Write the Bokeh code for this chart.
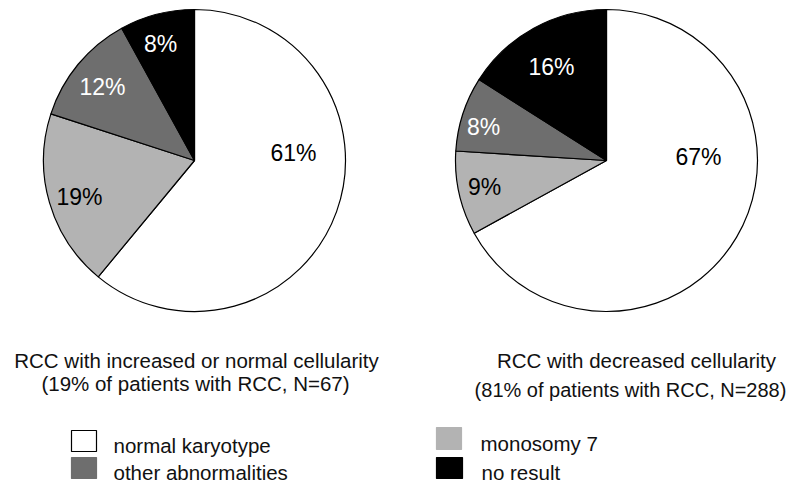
import numpy as np
from bokeh.plotting import figure
from bokeh.models import Range1d, ColumnDataSource
from bokeh.core.properties import value
from bokeh.embed import file_html
from bokeh.resources import INLINE

# ---------------- data ----------------
categories = ["normal karyotype", "monosomy 7", "other abnormalities", "no result"]
left_values = [61, 19, 12, 8]
right_values = [67, 9, 8, 16]
left_title = ["RCC with increased or normal cellularity", "(19% of patients with RCC, N=67)"]
right_title = ["RCC with decreased cellularity", "(81% of patients with RCC, N=288)"]

# ---------------- style / layout ----------------
slice_colors = ["#ffffff", "#b3b3b3", "#6e6e6e", "#000000"]
label_colors = ["#000000", "#000000", "#ffffff", "#ffffff"]
FONT = "Liberation Sans"
W, H = 787, 486
R = 151


def Y(v):
    # picture row (from the top) -> data y (y axis points up)
    return H - v


p = figure(width=W, height=H, x_range=Range1d(0, W), y_range=Range1d(0, H),
           output_backend="svg", toolbar_location=None, min_border=0)
p.axis.visible = False
p.grid.visible = False
p.outline_line_color = None
p.background_fill_color = "white"
p.border_fill_color = "white"

pies = [
    dict(values=left_values, cx=194, cy=160, title=left_title,
         title_x=[196, 195], title_y=[360, 383], title_size=["20.5px", "20.5px"],
         label_off=[(99, -8), (-115, 36), (-92, -74), (-34, -117)]),
    dict(values=right_values, cx=606, cy=160, title=right_title,
         title_x=[636, 630], title_y=[360, 389], title_size=["20.5px", "20px"],
         label_off=[(92, -4), (-122, 26), (-123, -34), (-55, -94)]),
]

for pie in pies:
    vals = np.array(pie["values"], dtype=float)
    frac = vals / vals.sum()
    c1 = np.cumsum(frac)
    c0 = c1 - frac
    src = ColumnDataSource(dict(
        x=[pie["cx"]] * len(vals), y=[Y(pie["cy"])] * len(vals),
        start=np.pi / 2 - 2 * np.pi * c1, end=np.pi / 2 - 2 * np.pi * c0,
        color=slice_colors, cat=categories))
    p.wedge(x="x", y="y", radius=R, start_angle="start", end_angle="end",
            fill_color="color", line_color="black", line_width=1.2, source=src)

    lsrc = ColumnDataSource(dict(
        x=[pie["cx"] + dx for dx, dy in pie["label_off"]],
        y=[Y(pie["cy"] + dy) for dx, dy in pie["label_off"]],
        text=[f"{int(v)}%" for v in pie["values"]],
        color=label_colors))
    p.text(x="x", y="y", text="text", text_color="color", source=lsrc,
           text_align="center", text_baseline="middle",
           text_font=value(FONT), text_font_size=value("23px"))

    for tx, ty, tt, ts in zip(pie["title_x"], pie["title_y"], pie["title"], pie["title_size"]):
        p.text(x=[tx], y=[Y(ty)], text=[tt], text_color="#111111",
               text_align="center", text_baseline="alphabetic",
               text_font=value(FONT), text_font_size=value(ts))

# ---------------- legend ----------------
leg_left = [71, 436, 71, 436]
leg_right = [96, 461, 96, 462]
leg_top = [430, 427, 457, 457]
leg_bottom = [451, 449, 478, 478]
leg_text_x = [113, 480, 113, 481]
leg_text_base = [445, 443, 472, 472]
leg_line = ["#000000", slice_colors[1], slice_colors[2], slice_colors[3]]

qsrc = ColumnDataSource(dict(left=leg_left, right=leg_right,
                             top=[Y(v) for v in leg_top], bottom=[Y(v) for v in leg_bottom],
                             fill=slice_colors, line=leg_line))
p.quad(left="left", right="right", top="top", bottom="bottom",
       fill_color="fill", line_color="line", line_width=1.2, source=qsrc)

ltsrc = ColumnDataSource(dict(x=leg_text_x, y=[Y(v) for v in leg_text_base], text=categories))
p.text(x="x", y="y", text="text", source=ltsrc, text_color="#111111",
       text_align="left", text_baseline="alphabetic",
       text_font=value(FONT), text_font_size=value("20.5px"))

open("out.html", "w").write(file_html(p, INLINE))
